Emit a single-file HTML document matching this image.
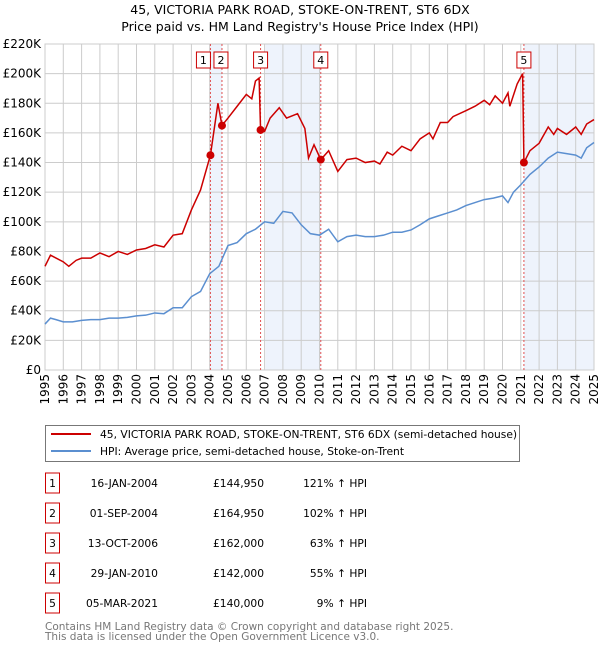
<!DOCTYPE html>
<html><head><meta charset="utf-8"><style>
body{margin:0;background:#fff;font-family:"DejaVu Sans","Liberation Sans",sans-serif;}
svg{display:block}
</style></head><body>
<svg id="chart" width="600" height="650" viewBox="0 0 600 650" font-family="DejaVu Sans, Liberation Sans, sans-serif">
<text x="300" y="14" text-anchor="middle" font-size="12.5">45, VICTORIA PARK ROAD, STOKE-ON-TRENT, ST6 6DX</text>
<text x="300" y="31" text-anchor="middle" font-size="12.5">Price paid vs. HM Land Registry's House Price Index (HPI)</text>
<g id="plot"></g>
<g>
<rect x="45.5" y="425.5" width="474" height="36" fill="#fff" stroke="#777"/>
<line x1="51" y1="434" x2="91" y2="434" stroke="#cc0000" stroke-width="2"/>
<text x="100" y="438" font-size="10.7">45, VICTORIA PARK ROAD, STOKE-ON-TRENT, ST6 6DX (semi-detached house)</text>
<line x1="51" y1="451" x2="91" y2="451" stroke="#5b8fd0" stroke-width="2"/>
<text x="100" y="455" font-size="10.7">HPI: Average price, semi-detached house, Stoke-on-Trent</text>
</g>
<g id="table" font-size="10.7"></g>
<text x="45" y="630" font-size="10.5" fill="#777">Contains HM Land Registry data © Crown copyright and database right 2025.</text>
<text x="45" y="640" font-size="10.5" fill="#777">This data is licensed under the Open Government Licence v3.0.</text>
</svg>
<script>
const hpiYears=[1995,1995.3,1995.6,1996,1996.5,1997,1997.5,1998,1998.5,1999,1999.5,2000,2000.5,2001,2001.5,2002,2002.5,2003,2003.5,2004,2004.5,2005,2005.5,2006,2006.5,2007,2007.5,2008,2008.5,2009,2009.5,2010,2010.5,2011,2011.5,2012,2012.5,2013,2013.5,2014,2014.5,2015,2015.5,2016,2016.5,2017,2017.5,2018,2018.5,2019,2019.5,2020,2020.3,2020.6,2021,2021.5,2022,2022.5,2023,2023.5,2024,2024.3,2024.6,2025];
const hpiValues=[31,35,34,32.5,32.5,33.5,34,34,35,35,35.5,36.5,37,38.5,38,42,42,49.5,53,65,70,84,86,92,95,100,99,107,106,98,92,91,95,86.5,90,91,90,90,91,93,93,94.5,98,102,104,106,108,111,113,115,116,117.5,113,120,125,132,137,143,147,146,145,143,150,153.5];
const ppYears=[1995,1995.3,1996,1996.3,1996.7,1997,1997.5,1998,1998.5,1999,1999.5,2000,2000.5,2001,2001.5,2002,2002.5,2003,2003.5,2004.04,2004.45,2004.67,2005,2005.5,2006,2006.3,2006.5,2006.7,2006.78,2007,2007.3,2007.8,2008.2,2008.8,2009.2,2009.4,2009.7,2010.07,2010.5,2011,2011.5,2012,2012.5,2013,2013.3,2013.7,2014,2014.5,2015,2015.5,2016,2016.2,2016.6,2017,2017.3,2018,2018.5,2019,2019.3,2019.6,2020,2020.3,2020.4,2020.8,2021.1,2021.17,2021.5,2022,2022.5,2022.8,2023,2023.5,2024,2024.3,2024.6,2025];
const ppValues=[70,77.5,73,70,74,75.5,75.5,79,76.5,80,78,81,82,84.5,83,91,92,108,121.5,145,180,165,170,178,186,183,195,197,162,161,170,177,170,173,163,143,152,142,148,134,142,143,140,141,139,147,145,151,148,156,160,156,167,167,171,175,178,182,179,185,180,187,178,193,200,140,148,153,164,159,163,159,164,159,166,169];
const saleYears=[2004.04,2004.67,2006.78,2010.07,2021.17];
const salePrices=[144.95,164.95,162,142,140];
const saleLabels=["1","2","3","4","5"];
const saleDates=["16-JAN-2004","01-SEP-2004","13-OCT-2006","29-JAN-2010","05-MAR-2021"];
const salePriceText=["£144,950","£164,950","£162,000","£142,000","£140,000"];
const salePct=["121% ↑ HPI","102% ↑ HPI","63% ↑ HPI","55% ↑ HPI","9% ↑ HPI"];
const yTicks=[0,20,40,60,80,100,120,140,160,180,200,220];
const yTickLabels=["£0","£20K","£40K","£60K","£80K","£100K","£120K","£140K","£160K","£180K","£200K","£220K"];
const xTicks=[1995,1996,1997,1998,1999,2000,2001,2002,2003,2004,2005,2006,2007,2008,2009,2010,2011,2012,2013,2014,2015,2016,2017,2018,2019,2020,2021,2022,2023,2024,2025];

const X0=45,X1=594,Y0=370,Y1=44;
const xs=y=>X0+(y-1995)/30*(X1-X0);
const ys=v=>Y0-v/220*(Y0-Y1);
const NS="http://www.w3.org/2000/svg";
const plot=document.getElementById('plot');
function mk(tag,attrs,parent){const e=document.createElementNS(NS,tag);for(const k in attrs)e.setAttribute(k,attrs[k]);(parent||plot).appendChild(e);return e;}

const shadeRanges=[[saleYears[0],saleYears[1]],[2007.05,saleYears[3]],[saleYears[4],2025]];
shadeRanges.forEach(r=>{
  const e=mk('rect',{x:xs(r[0]),y:Y1,width:xs(r[1])-xs(r[0]),height:Y0-Y1,fill:'#eef3fc'});
  
  
});
yTicks.forEach((v,i)=>{
  const l=mk('line',{x1:X0,x2:X1,y1:ys(v),y2:ys(v),stroke:'#ccc','stroke-width':1});
  
  
  const t=mk('text',{x:X0-4,y:ys(v)+4,'text-anchor':'end','font-size':12});
  
  
  t.textContent=yTickLabels[i];
});
xTicks.forEach(y=>{
  const l=mk('line',{x1:xs(y),x2:xs(y),y1:Y1,y2:Y0,stroke:'#ccc','stroke-width':1});
  
  
  const t=mk('text',{x:0,y:0,'text-anchor':'end','font-size':12,transform:`translate(${xs(y)+4},${Y0+4}) rotate(-90)`});
  
  
  t.textContent=y;
});
const fr=mk('rect',{x:X0,y:Y1,width:X1-X0,height:Y0-Y1,fill:'none',stroke:'#ccc'});


saleYears.forEach(y=>{
  const l=mk('line',{x1:xs(y),x2:xs(y),y1:Y1,y2:Y0,stroke:'#e05050','stroke-width':1,'stroke-dasharray':'2,2'});
  
  
});
const hp=mk('polyline',{points:hpiYears.map((y,i)=>xs(y)+','+ys(hpiValues[i])).join(' '),fill:'none',stroke:'#5b8fd0','stroke-width':1.5});


const pp=mk('polyline',{points:ppYears.map((y,i)=>xs(y)+','+ys(ppValues[i])).join(' '),fill:'none',stroke:'#cc0000','stroke-width':1.5});


saleYears.forEach((y,i)=>{
  const c=mk('circle',{cx:xs(y),cy:ys(salePrices[i]),r:4,fill:'#cc0000'});
  
  
  let lx=xs(y)-7;
  if(i===0)lx=xs(y)-14; if(i===1)lx=xs(y)-8;
  const b=mk('rect',{x:lx,y:52,width:14,height:16,fill:'#fff',stroke:'#cc0000'});
  
  
  const t=mk('text',{x:lx+7,y:64,'text-anchor':'middle','font-size':11});
  
  
  t.textContent=saleLabels[i];
});
const tb=document.getElementById('table');
saleLabels.forEach((s,i)=>{
  const cy=483+i*30;
  const b=mk('rect',{x:45.5,y:cy-10,width:14,height:20,fill:'#fff',stroke:'#cc0000'},tb);
  
  
  const t1=mk('text',{x:52.5,y:cy+4,'text-anchor':'middle'},tb);
  
  
  t1.textContent=s;
  const t2=mk('text',{x:158,y:cy+4,'text-anchor':'end'},tb);
  
  
  t2.textContent=saleDates[i];
  const t3=mk('text',{x:264,y:cy+4,'text-anchor':'end'},tb);
  
  
  t3.textContent=salePriceText[i];
  const t4=mk('text',{x:367,y:cy+4,'text-anchor':'end'},tb);
  
  
  t4.textContent=salePct[i];
});
</script>
</body></html>
